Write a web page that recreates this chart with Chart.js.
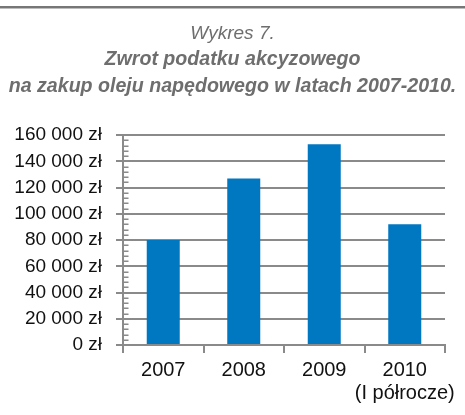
<!DOCTYPE html>
<html>
<head>
<meta charset="utf-8">
<script src="https://cdn.jsdelivr.net/npm/chart.js@4/dist/chart.umd.min.js"></script>
<style>
  html, body { margin: 0; padding: 0; background: #fff; }
  #wrap { width: 465px; height: 415px; position: relative; }
</style>
</head>
<body>
<div id="wrap"><canvas id="chart" width="465" height="415"></canvas></div>
<script>
const years = ['2007', '2008', '2009', ['2010', '(I półrocze)']];
const refunds = [80000, 127000, 153000, 92000];
const yTicks = [0, 20000, 40000, 60000, 80000, 100000, 120000, 140000, 160000];
const minorStep = 4000;

const FONT = '"Liberation Sans", Arial, sans-serif';
const GRID = '#8a8a8a';

function zl(v) {
  return String(v).replace(/\B(?=(\d{3})+(?!\d))/g, ' ') + ' zł';
}

// gray rule across the top of the figure
const topRule = {
  id: 'topRule',
  beforeDraw(chart) {
    const ctx = chart.ctx;
    ctx.save();
    ctx.fillStyle = '#777';
    ctx.fillRect(0, 6, chart.width, 2);
    ctx.fillStyle = '#bdbdbd';
    ctx.fillRect(0, 8, chart.width, 1);
    ctx.restore();
  }
};

// small minor ticks to the right of the y axis line
const minorTicks = {
  id: 'minorTicks',
  afterDatasetsDraw(chart) {
    const y = chart.scales.y;
    const ctx = chart.ctx;
    const x0 = chart.chartArea.left;
    ctx.save();
    ctx.strokeStyle = GRID;
    ctx.lineWidth = 1.5;
    ctx.beginPath();
    for (let v = 0; v <= y.max; v += minorStep) {
      if (yTicks.includes(v)) continue;
      const py = Math.round(y.getPixelForValue(v)) + 0.25;
      ctx.moveTo(x0, py);
      ctx.lineTo(x0 + 5.5, py);
    }
    ctx.stroke();
    ctx.restore();
  }
};

new Chart(document.getElementById('chart'), {
  type: 'bar',
  data: {
    labels: years,
    datasets: [{
      data: refunds,
      backgroundColor: '#0077c1',
      borderWidth: 0,
      categoryPercentage: 1,
      barPercentage: 0.41
    }]
  },
  options: {
    responsive: false,
    animation: false,
    devicePixelRatio: 1,
    layout: { padding: { top: 21, right: 0, bottom: 4, left: 0 } },
    plugins: {
      legend: { display: false },
      tooltip: { enabled: false },
      title: {
        display: true,
        text: 'Wykres 7.',
        color: '#6e6e6e',
        font: { family: FONT, size: 19, style: 'italic', weight: 'normal', lineHeight: 1.37 },
        padding: { top: 0, bottom: 0 }
      },
      subtitle: {
        display: true,
        text: ['Zwrot podatku akcyzowego', 'na zakup oleju napędowego w latach 2007-2010.'],
        color: '#6e6e6e',
        font: { family: FONT, size: 19.6, style: 'italic', weight: 'bold', lineHeight: 1.33 },
        padding: { top: 0, bottom: 36 }
      }
    },
    scales: {
      x: {
        grid: {
          display: true,
          drawOnChartArea: false,
          drawTicks: true,
          tickLength: 8,
          color: GRID,
          lineWidth: 2
        },
        border: { color: GRID, width: 2 },
        ticks: {
          color: '#111',
          padding: 6,
          maxRotation: 0,
          autoSkip: false,
          font: { family: FONT, size: 20, lineHeight: 1.15 }
        }
      },
      y: {
        min: 0,
        max: 160000,
        afterFit(scale) { scale.width = 123; },
        afterBuildTicks(scale) { scale.ticks = yTicks.map(v => ({ value: v })); },
        grid: {
          color: GRID,
          lineWidth: 2,
          tickLength: 7
        },
        border: { color: GRID, width: 2 },
        ticks: {
          color: '#111',
          padding: 14,
          font: { family: FONT, size: 19 },
          callback: v => zl(v)
        }
      },
      // empty right-hand axis: keeps the plot clear of the right edge
      spacer: {
        type: 'linear',
        position: 'right',
        display: true,
        afterFit(scale) { scale.width = 20; },
        grid: { display: false },
        border: { display: false },
        ticks: { display: false }
      }
    }
  },
  plugins: [topRule, minorTicks]
});
</script>
</body>
</html>
